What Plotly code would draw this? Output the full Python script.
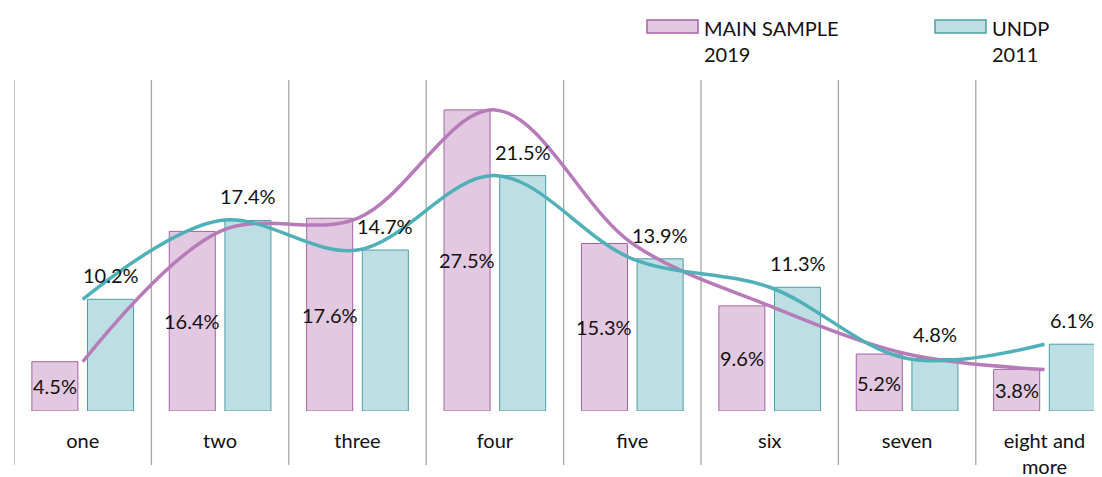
import plotly.graph_objects as go
import numpy as np

categories = ["one", "two", "three", "four", "five", "six", "seven", "eight and<br>more"]
main_2019 = [4.5, 16.4, 17.6, 27.5, 15.3, 9.6, 5.2, 3.8]
undp_2011 = [10.2, 17.4, 14.7, 21.5, 13.9, 11.3, 4.8, 6.1]
series_names = ["MAIN SAMPLE<br>2019", "UNDP<br>2011"]

MAG_FILL = "#e3c8e1"
MAG_EDGE = "#a561a5"
MAG_LINE = "#b77bb9"
TEAL_FILL = "#bddfe3"
TEAL_EDGE = "#4d9ea6"
TEAL_LINE = "#4fb0b8"
FONT = "Lato"
FS = 20

x = np.arange(len(categories))
BW = 0.335
OFF_M = -0.37
OFF_T = 0.035

fig = go.Figure()
fig.add_trace(go.Bar(x=x, y=main_2019, width=BW, offset=OFF_M,
                     marker=dict(color=MAG_FILL, line=dict(color=MAG_EDGE, width=1)),
                     name=series_names[0], showlegend=False))
fig.add_trace(go.Bar(x=x, y=undp_2011, width=BW, offset=OFF_T,
                     marker=dict(color=TEAL_FILL, line=dict(color=TEAL_EDGE, width=1)),
                     name=series_names[1], showlegend=False))
fig.add_trace(go.Scatter(x=x, y=main_2019, mode="lines",
                         line=dict(color=MAG_LINE, width=3.5, shape="spline", smoothing=1.0),
                         showlegend=False, hoverinfo="skip"))
fig.add_trace(go.Scatter(x=x, y=undp_2011, mode="lines",
                         line=dict(color=TEAL_LINE, width=3.5, shape="spline", smoothing=1.0),
                         showlegend=False, hoverinfo="skip"))

annotations = []
for i, v in enumerate(main_2019):
    annotations.append(dict(x=i + OFF_M + BW / 2, y=v / 2, xref="x", yref="y",
                            text=f"{v:.1f}%", showarrow=False,
                            font=dict(family=FONT, size=FS, color="#111111")))
for i, v in enumerate(undp_2011):
    annotations.append(dict(x=i + OFF_T + BW / 2, y=v, xref="x", yref="y",
                            text=f"{v:.1f}%", showarrow=False, yshift=24,
                            font=dict(family=FONT, size=FS, color="#111111")))

# the page body adds an 8px margin, so the figure is sized to fit the window
W, H = 1094, 469
ML, MR, MT, MB = 6, 0, 72, 66
pw, ph = W - ML - MR, H - MT - MB

# custom legend
legend_items = [(series_names[0], MAG_FILL, MAG_EDGE, 639), (series_names[1], TEAL_FILL, TEAL_EDGE, 927)]
shapes = []
for name, fill, edge, px in legend_items:
    x0 = (px - ML) / pw
    x1 = (px + 51 - ML) / pw
    shapes.append(dict(type="rect", xref="paper", yref="paper", x0=x0, x1=x1,
                       y0=1 + (MT - 25) / ph, y1=1 + (MT - 12) / ph,
                       fillcolor=fill, line=dict(color=edge, width=1.5)))
    annotations.append(dict(x=(px + 55 - ML) / pw, y=1 + (MT - 6) / ph, xref="paper", yref="paper",
                            xanchor="left", yanchor="top", align="left", text=name, showarrow=False,
                            font=dict(family=FONT, size=FS, color="#111111")))

# category separators
for b in np.arange(len(categories) + 1) - 0.5:
    shapes.append(dict(type="line", xref="x", yref="paper", x0=b, x1=b, y0=-54 / ph, y1=1,
                       line=dict(color="#a6a6a6", width=1.3), layer="below"))

fig.update_layout(
    width=W, height=H,
    margin=dict(l=ML, r=MR, t=MT, b=MB, autoexpand=False),
    paper_bgcolor="white", plot_bgcolor="white",
    barmode="overlay",
    xaxis=dict(range=[-0.5, -0.5 + pw / 137.4], tickvals=x, ticktext=categories,
               showgrid=False, zeroline=False, showline=False, automargin=False,
               ticks="outside", ticklen=12, tickcolor="rgba(0,0,0,0)",
               tickfont=dict(family=FONT, size=FS, color="#111111")),
    yaxis=dict(range=[0, ph / 10.95], visible=False, automargin=False),
    shapes=shapes, annotations=annotations,
    font=dict(family=FONT),
)

fig.write_html("out.html")
